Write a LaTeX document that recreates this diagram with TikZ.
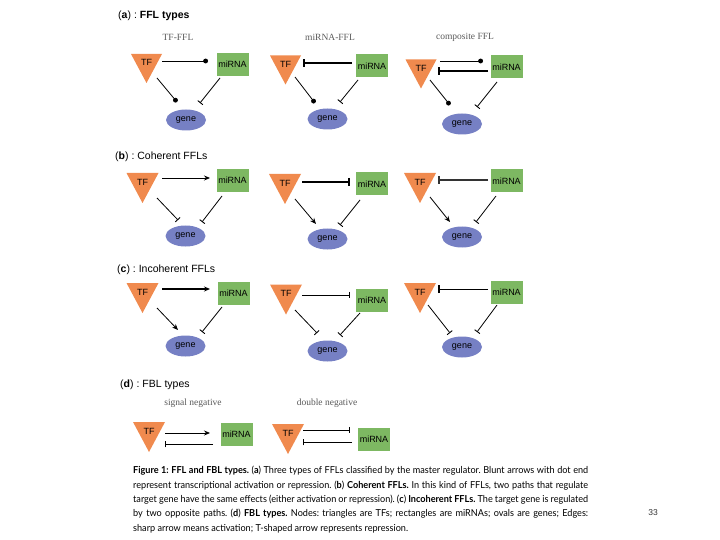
\documentclass[tikz,border=0pt]{standalone}
\usepackage{fontspec}
\setmainfont{Liberation Sans}
\newfontfamily\subfont{Liberation Serif}
\newfontfamily\capfont[FakeStretch=0.95]{Lato}
\usetikzlibrary{arrows.meta,calc,shapes.geometric}
\definecolor{tforange}{RGB}{240,138,78}
\definecolor{mirgreen}{RGB}{125,184,98}
\definecolor{geneblue}{RGB}{118,128,196}
\begin{document}
\frenchspacing
\begin{tikzpicture}[x=1pt,y=-1pt,
  tri/.style={minimum width=32pt, minimum height=30pt, inner sep=0pt,
    text height=6.5pt, text depth=12pt, font=\fontsize{9}{10}\selectfont,
    path picture={\fill[tforange] (path picture bounding box.north west) -- (path picture bounding box.north east) -- (path picture bounding box.south) -- cycle;}},
  mir/.style={fill=mirgreen, minimum width=32pt, minimum height=23pt, inner sep=0pt, font=\fontsize{9}{10}\selectfont},
  gen/.style={ellipse, fill=geneblue, minimum width=40pt, minimum height=21pt, inner sep=0pt, font=\fontsize{9}{10}\selectfont},
  ttl/.style={anchor=west, font=\fontsize{10.5}{12}\selectfont, inner sep=0pt},
  sub/.style={font=\subfont\fontsize{9.5}{11}\selectfont, text=black!65, inner sep=0pt},
  act/.style={-{Stealth[length=6pt,width=5pt]}, line width=0.8pt},
  dotend/.style={-{Circle[length=4.8pt]}, line width=0.8pt},
  rep/.style={-{Bar[width=6.5pt,line width=0.9pt]}, line width=0.8pt},
  repthick/.style={-{Bar[width=8pt,line width=1.6pt]}, line width=1.5pt},
  capline/.style={anchor=base west, inner sep=0pt, font=\capfont\fontsize{9.6}{11}\selectfont}
]
\useasboundingbox (0,0) rectangle (720,540);

% ---------- (a) ----------
\node[ttl] (ta) at (118,16) {(\textbf{a}) : \textbf{FFL types}};
\node[sub] (sa1) at (178,37) {TF-FFL};
\node[sub] (sa2) at (330,37) {miRNA-FFL};
\node[sub] (sa3) at (465,37) {composite FFL};

\node[tri, minimum width=31pt, minimum height=29pt] (a1t) at (146.5,68.5) {TF};
\node[mir] (a1m) at (232.5,64.5) {miRNA};
\node[gen] (a1g) at (186,120) {gene};
\draw[dotend] ($(a1t)+(15.5,-7.5)$) -- ($(a1m)+(-24.5,-3.5)$);
\draw[dotend] ($(a1t)+(10.5,9.5)$) -- ($(a1g)+(-9,-18)$);
\draw[rep] ($(a1m)+(-12.5,13.5)$) -- ($(a1g)+(14,-17)$);

\node[tri, minimum width=31pt, minimum height=29pt] (a2t) at (285.5,70) {TF};
\node[mir] (a2m) at (372,66) {miRNA};
\node[gen] (a2g) at (327.5,119) {gene};
\draw[repthick] ($(a2m)+(-20,-3)$) -- ($(a2t)+(17.5,-7)$);
\draw[dotend] ($(a2t)+(9.5,7)$) -- ($(a2g)+(-12.5,-16)$);
\draw[rep] ($(a2m)+(-14,14)$) -- ($(a2g)+(12.5,-17)$);

\node[tri, minimum width=31pt, minimum height=29pt] (a3t) at (421,74) {TF};
\node[mir] (a3m) at (506.5,67) {miRNA};
\node[gen] (a3g) at (462,124) {gene};
\draw[dotend] ($(a3t)+(19,-13)$) -- ($(a3m)+(-23.5,-6)$);
\draw[repthick] ($(a3m)+(-18.5,4)$) -- ($(a3t)+(17,-3)$);
\draw[dotend] ($(a3t)+(9,6)$) -- ($(a3g)+(-12,-19)$);
\draw[rep] ($(a3m)+(-9.5,15)$) -- ($(a3g)+(15,-17)$);

% ---------- (b) ----------
\node[ttl] (tb) at (115,157) {(\textbf{b}) : Coherent FFLs};

\node[tri] (b1t) at (142.5,188) {TF};
\node[mir] (b1m) at (232.5,180.5) {miRNA};
\node[gen] (b1g) at (185.5,236) {gene};
\draw[act] ($(b1t)+(19.5,-10)$) -- ($(b1m)+(-22.5,-2.5)$);
\draw[rep] ($(b1t)+(14.5,10)$) -- ($(b1g)+(-7.5,-16)$);
\draw[rep] ($(b1m)+(-10.5,15.5)$) -- ($(b1g)+(16.5,-14)$);

\node[tri] (b2t) at (285,189) {TF};
\node[mir] (b2m) at (372,184) {miRNA};
\node[gen] (b2g) at (327.5,239) {gene};
\draw[repthick] ($(b2t)+(17,-7)$) -- ($(b2m)+(-22,-2)$);
\draw[act] ($(b2t)+(10,10)$) -- ($(b2g)+(-11.5,-15)$);
\draw[rep] ($(b2m)+(-12,16)$) -- ($(b2g)+(12.5,-14)$);

\node[tri] (b3t) at (420,188) {TF};
\node[mir] (b3m) at (506.5,181) {miRNA};
\node[gen] (b3g) at (462,237) {gene};
\draw[repthick, line width=1.3pt, draw=black!80] ($(b3m)+(-18.5,-1)$) -- ($(b3t)+(18,-8)$);
\draw[act] ($(b3t)+(10,9)$) -- ($(b3g)+(-12,-15)$);
\draw[rep] ($(b3m)+(-10.5,15)$) -- ($(b3g)+(14,-15)$);

% ---------- (c) ----------
\node[ttl] (tc) at (117,270) {(\textbf{c}) : Incoherent FFLs};

\node[tri] (c1t) at (142.5,298) {TF};
\node[mir] (c1m) at (233.5,293) {miRNA};
\node[gen] (c1g) at (185.5,346) {gene};
\draw[act, line width=1.2pt] ($(c1t)+(19.5,-9)$) -- ($(c1m)+(-23.5,-4)$);
\draw[act] ($(c1t)+(14.5,10)$) -- ($(c1g)+(-7.5,-16)$);
\draw[rep] ($(c1m)+(-11.5,14)$) -- ($(c1g)+(16.5,-14)$);

\node[tri] (c2t) at (286,299.5) {TF};
\node[mir] (c2m) at (372,300.5) {miRNA};
\node[gen] (c2g) at (327.5,351) {gene};
\draw[rep] ($(c2t)+(16,-4.5)$) -- ($(c2m)+(-22,-5.5)$);
\draw[rep] ($(c2t)+(9,10.5)$) -- ($(c2g)+(-10.5,-18)$);
\draw[rep] ($(c2m)+(-12,12.5)$) -- ($(c2g)+(12.5,-16)$);

\node[tri] (c3t) at (420,298) {TF};
\node[mir] (c3m) at (506.5,292) {miRNA};
\node[gen] (c3g) at (462,347) {gene};
\draw[-{Bar[width=8pt,line width=1.6pt]}, line width=0.9pt] ($(c3m)+(-18.5,-3)$) -- ($(c3t)+(18,-9)$);
\draw[rep] ($(c3t)+(8,7)$) -- ($(c3g)+(-12,-14)$);
\draw[rep] ($(c3m)+(-9.5,13)$) -- ($(c3g)+(15,-15)$);

% ---------- (d) ----------
\node[ttl] (td) at (120,385) {(\textbf{d}) : FBL types};
\node[sub] (sd1) at (193,403) {signal negative};
\node[sub] (sd2) at (327,403) {double negative};

\node[tri] (d1t) at (149,437) {TF};
\node[mir] (d1m) at (236.5,434) {miRNA};
\draw[act] ($(d1t)+(16,-4)$) -- ($(d1m)+(-26.5,-1)$);
\draw[rep] ($(d1m)+(-23.5,10)$) -- ($(d1t)+(16,7)$);

\node[tri] (d2t) at (288,439) {TF};
\node[mir] (d2m) at (374,439) {miRNA};
\draw[rep] ($(d2t)+(15,-9)$) -- ($(d2m)+(-24,-9)$);
\draw[rep] ($(d2m)+(-22,3)$) -- ($(d2t)+(15,3)$);

% ---------- caption ----------
\node[capline] (l1) at (133,473) {\makebox[455pt][s]{\textbf{Figure 1:} \textbf{FFL and FBL types.} (\textbf{a}) Three types of FFLs classified by the master regulator. Blunt arrows with dot end}};
\node[capline] (l2) at (133,488) {\makebox[455pt][s]{represent transcriptional activation or repression. (\textbf{b}) \textbf{Coherent FFLs.} In this kind of FFLs, two paths that regulate}};
\node[capline] (l3) at (133,502) {\makebox[455pt][s]{target gene have the same effects (either activation or repression). (\textbf{c}) \textbf{Incoherent FFLs.} The target gene is regulated}};
\node[capline] (l4) at (133,516.5) {\makebox[455pt][s]{by two opposite paths. (\textbf{d}) \textbf{FBL types.} Nodes: triangles are TFs; rectangles are miRNAs; ovals are genes; Edges:}};
\node[capline] (l5) at (133,531) {sharp arrow means activation; T-shaped arrow represents repression.};

\node[font=\fontsize{8.5}{10}\selectfont, text=black!80] (pg) at (653,513) {33};
\end{tikzpicture}
\end{document}
